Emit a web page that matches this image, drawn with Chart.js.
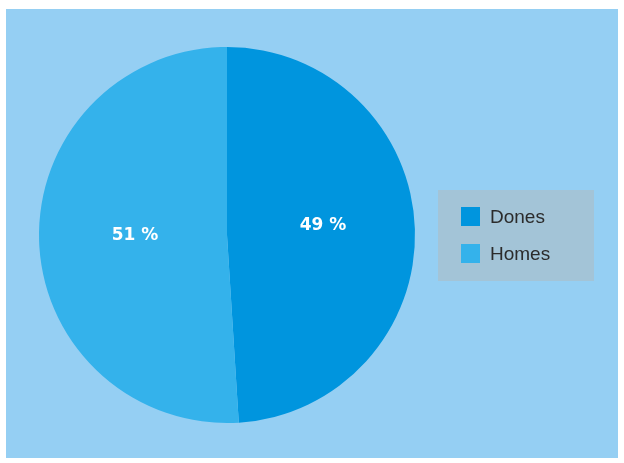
<!DOCTYPE html>
<html>
<head>
<meta charset="utf-8">
<script src="https://cdn.jsdelivr.net/npm/chart.js@4/dist/chart.umd.min.js"></script>
<style>
    html, body { margin: 0; padding: 0; background: #ffffff; }
    #wrap { width: 624px; height: 463px; position: relative; }
</style>
</head>
<body>
<div id="wrap"><canvas id="pieChart" width="624" height="463"></canvas></div>
<script>
// données du graphique
const categories = ['Dones', 'Homes'];
const percentages = [49, 51];
const sliceColors = ['#0095de', '#34b2eb'];

// fond bleu clair derrière le camembert
const backgroundPlugin = {
    id: 'panelBackground',
    beforeDraw(chart) {
        const ctx = chart.ctx;
        ctx.save();
        ctx.fillStyle = '#95cff3';
        ctx.fillRect(6, 9, 612, 449);
        ctx.restore();
    }
};

// étiquettes de pourcentage au centre de chaque part
const sliceLabelsPlugin = {
    id: 'sliceLabels',
    afterDatasetsDraw(chart) {
        const ctx = chart.ctx;
        const meta = chart.getDatasetMeta(0);
        ctx.save();
        ctx.fillStyle = '#ffffff';
        ctx.font = 'bold 17px "DejaVu Sans", sans-serif';
        ctx.textAlign = 'center';
        ctx.textBaseline = 'middle';
        meta.data.forEach((arc, i) => {
            const p = arc.getProps(['x', 'y', 'startAngle', 'endAngle', 'outerRadius'], true);
            const mid = (p.startAngle + p.endAngle) / 2;
            const r = p.outerRadius * 0.5;
            const x = p.x + Math.cos(mid) * r + 2;
            const y = p.y + Math.sin(mid) * r - (i === 0 ? 6 : 2);
            ctx.fillText(percentages[i] + ' %', x, y);
        });
        ctx.restore();
    }
};

// légende dessinée à droite dans une boîte grise
const boxLegendPlugin = {
    id: 'boxLegend',
    afterDraw(chart) {
        const ctx = chart.ctx;
        ctx.save();
        ctx.fillStyle = '#a3c4d7';
        ctx.fillRect(438, 190, 156, 91);
        ctx.font = '19px "Liberation Sans", Arial, sans-serif';
        ctx.textBaseline = 'middle';
        categories.forEach((name, i) => {
            const y = 207 + i * 37;
            ctx.fillStyle = sliceColors[i];
            ctx.fillRect(461, y, 19, 19);
            ctx.fillStyle = '#2b2b2b';
            ctx.fillText(name, 490, y + 11);
        });
        ctx.restore();
    }
};

const ctx = document.getElementById('pieChart').getContext('2d');
const pieChart = new Chart(ctx, {
    type: 'pie',
    data: {
        labels: categories,
        datasets: [{
            data: percentages,
            backgroundColor: sliceColors,
            borderWidth: 0
        }]
    },
    options: {
        responsive: false,
        animation: false,
        layout: {
            padding: { left: 39, top: 47, right: 209, bottom: 40 }
        },
        plugins: {
            legend: { display: false },
            tooltip: { enabled: false }
        }
    },
    plugins: [backgroundPlugin, sliceLabelsPlugin, boxLegendPlugin]
});
</script>
</body>
</html>
